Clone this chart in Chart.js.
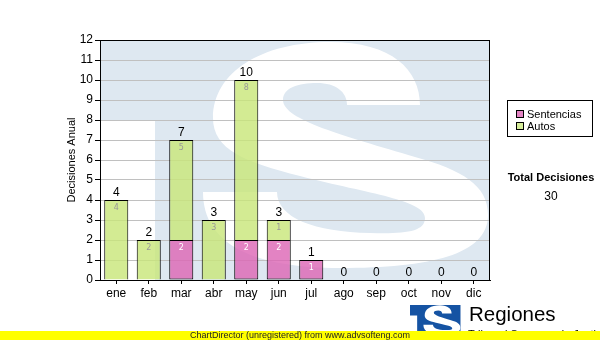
<!DOCTYPE html>
<html>
<head>
<meta charset="utf-8">
<script src="https://cdn.jsdelivr.net/npm/chart.js@4.4.1/dist/chart.umd.min.js"></script>
<style>
  body { margin: 0; background: #fff; }
  #wrap { position: relative; width: 600px; height: 340px; overflow: hidden; font-family: "Liberation Sans", Arial, sans-serif; }
  #chart { position: absolute; left: 0; top: 0; }
  .legend { position: absolute; left: 507px; top: 100px; width: 84px; height: 35px; border: 1px solid #000; background: #fff; font-size: 11px; }
  .legend div { position: absolute; left: 8px; height: 12px; line-height: 12px; white-space: nowrap; }
  .legend span { display: inline-block; width: 6px; height: 6px; border: 1px solid #000; margin-right: 3px; vertical-align: 0px; }
  .total-title { position: absolute; left: 500px; width: 102px; top: 171px; text-align: center; font-weight: bold; font-size: 11px; }
  .total-value { position: absolute; left: 500px; width: 102px; top: 189px; text-align: center; font-size: 12px; }
  .brand { position: absolute; left: 469px; top: 304px; font-size: 20.5px; line-height: 20px; }
  .brand-sub { position: absolute; left: 468px; top: 328px; font-size: 11px; line-height: 12px; white-space: nowrap; }
  .footer { position: absolute; left: 0; top: 331px; width: 600px; height: 9px; background: #ffff00; text-align: center; font-size: 9px; line-height: 9px; color: #222; }
</style>
</head>
<body>
<div id="wrap">
  <canvas id="chart" width="600" height="340"></canvas>
  <div class="legend">
    <div style="top:7px"><span style="background:#e383c3"></span>Sentencias</div>
    <div style="top:19px"><span style="background:#d6ed9a"></span>Autos</div>
  </div>
  <div class="total-title">Total Decisiones</div>
  <div class="total-value">30</div>
  <div class="brand">Regiones</div>
  <div class="brand-sub">Tribunal Supremo de Justicia</div>
  <div class="footer">ChartDirector (unregistered) from www.advsofteng.com</div>
</div>
<script>
const months = ["ene", "feb", "mar", "abr", "may", "jun", "jul", "ago", "sep", "oct", "nov", "dic"];
const sentencias = [0, 0, 2, 0, 2, 2, 1, 0, 0, 0, 0, 0];
const autos = [4, 2, 5, 3, 8, 1, 0, 0, 0, 0, 0, 0];
const yMax = 12;

// "TS" logo: block with a white S cut in, plot pixel coordinates
function drawTS(ctx, blue) {
  ctx.fillStyle = blue;
  ctx.beginPath();
  ctx.moveTo(100, 40);
  ctx.lineTo(490, 40);
  ctx.lineTo(490, 280);
  ctx.lineTo(155, 280);
  ctx.lineTo(155, 120);
  ctx.lineTo(100, 120);
  ctx.closePath();
  ctx.fill();

  ctx.fillStyle = "#fff";
  ctx.beginPath();
  ctx.moveTo(420, 105);
  ctx.bezierCurveTo(420, 70, 392, 42, 330, 42);
  ctx.bezierCurveTo(262, 42, 213, 72, 213, 118);
  ctx.bezierCurveTo(213, 150, 245, 162, 300, 176);
  ctx.bezierCurveTo(370, 194, 425, 200, 425, 218);
  ctx.bezierCurveTo(425, 232, 405, 234, 370, 233);
  ctx.bezierCurveTo(315, 232, 277, 218, 277, 192);
  ctx.lineTo(203, 192);
  ctx.bezierCurveTo(203, 245, 255, 268, 340, 268);
  ctx.bezierCurveTo(430, 268, 488, 255, 488, 215);
  ctx.bezierCurveTo(488, 185, 462, 170, 415, 157);
  ctx.bezierCurveTo(345, 136, 283, 120, 283, 100);
  ctx.bezierCurveTo(283, 88, 298, 83, 317, 83);
  ctx.bezierCurveTo(336, 83, 347, 92, 347, 105);
  ctx.closePath();
  ctx.fill();
}

const background = {
  id: "background",
  beforeDraw(chart) {
    const ctx = chart.ctx;
    const a = chart.chartArea;
    ctx.save();
    ctx.beginPath();
    ctx.rect(a.left, a.top, a.right - a.left, a.bottom - a.top);
    ctx.clip();
    drawTS(ctx, "#dee8f1");
    ctx.restore();

    // small logo bottom right
    const s = 0.13;
    ctx.save();
    ctx.translate(410 - 100 * s, 305 - 40 * s);
    ctx.scale(s, s);
    ctx.beginPath();
    ctx.rect(100, 36, 390, 244);
    ctx.clip();
    drawTS(ctx, "#1553a3");
    ctx.restore();
  },
  beforeDatasetsDraw(chart) {
    const ctx = chart.ctx;
    const a = chart.chartArea;
    ctx.save();
    ctx.strokeStyle = "#000";
    ctx.lineWidth = 1;
    ctx.strokeRect(a.left + 0.5, a.top + 0.5, a.right - a.left - 1, a.bottom - a.top);
    ctx.restore();
  }
};

const valueLabels = {
  id: "valueLabels",
  afterDatasetsDraw(chart) {
    const ctx = chart.ctx;
    const y = chart.scales.y;
    ctx.save();
    ctx.textAlign = "center";
    ctx.textBaseline = "middle";
    chart.data.datasets.forEach((ds, di) => {
      const meta = chart.getDatasetMeta(di);
      ctx.fillStyle = ds.labelColor;
      ctx.font = '8px "DejaVu Sans"';
      meta.data.forEach((bar, i) => {
        if (ds.data[i] > 0) ctx.fillText(ds.data[i], bar.x, bar.y + 7.5);
      });
    });
    ctx.fillStyle = "#000";
    ctx.font = '12px "Liberation Sans"';
    const meta0 = chart.getDatasetMeta(0);
    months.forEach((m, i) => {
      const total = sentencias[i] + autos[i];
      ctx.fillText(total, meta0.data[i].x, y.getPixelForValue(total) - 7);
    });
    ctx.restore();
  }
};

new Chart(document.getElementById("chart"), {
  type: "bar",
  data: {
    labels: months,
    datasets: [
      {
        label: "Sentencias",
        data: sentencias,
        backgroundColor: "rgba(220,100,180,0.8)",
        borderColor: "#000",
        borderWidth: 1,
        borderSkipped: false,
        labelColor: "#fff"
      },
      {
        label: "Autos",
        data: autos,
        backgroundColor: "rgba(200,230,120,0.8)",
        borderColor: "#000",
        borderWidth: 1,
        labelColor: "#999"
      }
    ]
  },
  options: {
    responsive: false,
    animation: false,
    layout: { padding: { left: 60, right: 110, top: 40, bottom: 40 } },
    plugins: {
      legend: { display: false },
      tooltip: { enabled: false }
    },
    datasets: {
      bar: { categoryPercentage: 0.74, barPercentage: 1 }
    },
    scales: {
      x: {
        stacked: true,
        afterFit(scale) { scale.height = 20; },
        grid: { display: true, drawOnChartArea: false, offset: false, tickLength: 4, tickColor: "#000" },
        border: { color: "#000" },
        ticks: { color: "#000", padding: 2, font: { family: "Liberation Sans", size: 12 } }
      },
      y: {
        stacked: true,
        min: 0,
        max: yMax,
        afterFit(scale) { scale.width = 40; },
        grid: {
          color: ctx => (ctx.tick && ctx.tick.value === yMax) ? "#000" : "#c0c0c0",
          tickColor: "#000",
          tickLength: 5
        },
        border: { color: "#000" },
        ticks: { stepSize: 1, color: "#000", padding: 2, font: { family: "Liberation Sans", size: 12 } },
        title: {
          display: true,
          text: "Decisiones Anual",
          color: "#000",
          padding: { top: 5, bottom: 0 },
          font: { family: "Liberation Sans", size: 11 }
        }
      }
    }
  },
  plugins: [background, valueLabels]
});
</script>
</body>
</html>
